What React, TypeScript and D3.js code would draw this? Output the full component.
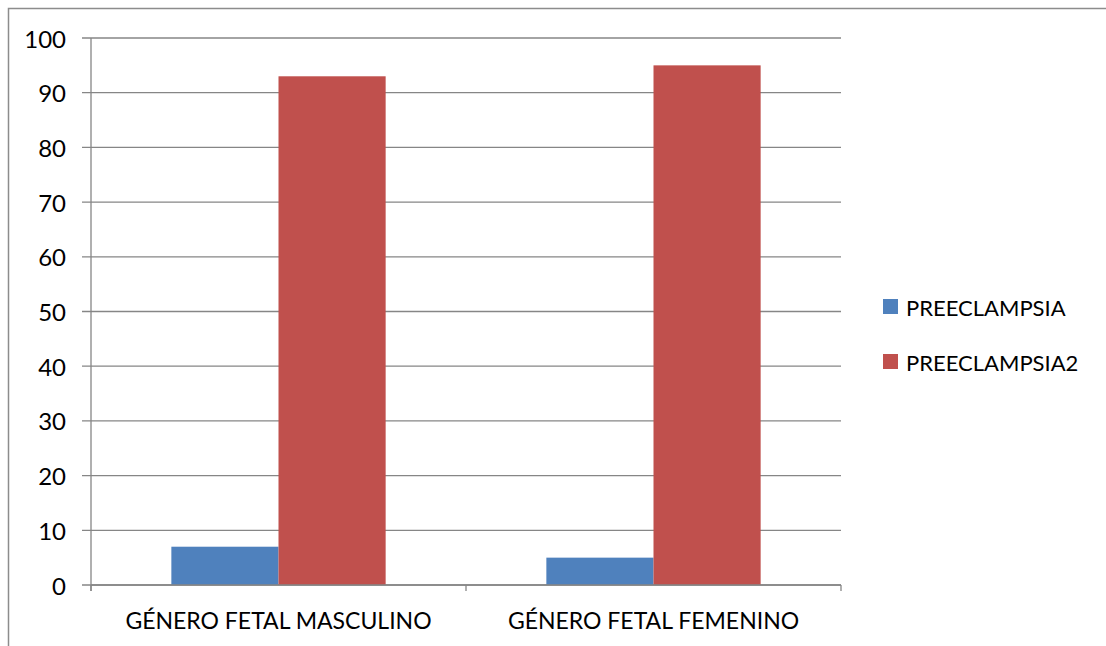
import * as d3 from 'd3'

const categories = ['GÉNERO FETAL MASCULINO', 'GÉNERO FETAL FEMENINO']
const seriesNames = ['PREECLAMPSIA', 'PREECLAMPSIA2']
const preeclampsia = [7, 5]
const preeclampsia2 = [93, 95]
const yTicks = [0, 10, 20, 30, 40, 50, 60, 70, 80, 90, 100]

const COLORS = ['#4F81BD', '#C0504D']
const WIDTH = 1106
const HEIGHT = 646
const PLOT = { left: 91, right: 841, top: 38, bottom: 585 }
const FONT = 'Lato, "Open Sans", sans-serif'

export default function App() {
  const values = [preeclampsia, preeclampsia2]

  const x = d3.scaleBand<string>()
    .domain(categories)
    .range([PLOT.left, PLOT.right])

  // Excel style: gap width 150% of a bar
  const barW = x.bandwidth() / 3.5
  const inner = d3.scaleBand<string>()
    .domain(seriesNames)
    .range([barW * 0.75, barW * 0.75 + barW * 2])

  const y = d3.scaleLinear().domain([0, 100]).range([PLOT.bottom, PLOT.top])

  const catEdges = [PLOT.left, ...categories.map(c => (x(c) ?? 0) + x.bandwidth())]

  return (
    <svg
      width={WIDTH}
      height={HEIGHT}
      style={{ position: 'absolute', left: 0, top: 0, fontFamily: FONT }}
    >
      <rect x={0} y={0} width={WIDTH} height={HEIGHT} fill="#fff" />
      {/* outer chart border */}
      <rect x={8.5} y={8.5} width={WIDTH + 20} height={HEIGHT + 20} fill="none" stroke="#8c8c8c" strokeWidth={1.5} />

      {/* gridlines + y ticks */}
      {yTicks.map(t => (
        <g key={`g-${t}`}>
          <line x1={PLOT.left - 9} x2={PLOT.right} y1={y(t)} y2={y(t)} stroke="#868686" strokeWidth={1.3} />
          <text x={66} y={y(t)} textAnchor="end" dominantBaseline="central" fontSize={24} fill="#000">
            {t}
          </text>
        </g>
      ))}

      {/* bars */}
      {values.map((series, si) =>
        series.map((v, ci) => (
          <rect
            key={`b-${si}-${ci}`}
            x={(x(categories[ci]) ?? 0) + (inner(seriesNames[si]) ?? 0)}
            y={y(v)}
            width={inner.bandwidth()}
            height={y(0) - y(v)}
            fill={COLORS[si]}
          />
        ))
      )}

      {/* y axis */}
      <line x1={PLOT.left} x2={PLOT.left} y1={PLOT.top} y2={PLOT.bottom + 6} stroke="#868686" strokeWidth={1.3} />
      {/* x axis */}
      <line x1={PLOT.left} x2={PLOT.right} y1={PLOT.bottom} y2={PLOT.bottom} stroke="#868686" strokeWidth={1.3} />
      {catEdges.map((e, i) => (
        <line key={`ct-${i}`} x1={e} x2={e} y1={PLOT.bottom} y2={PLOT.bottom + 6} stroke="#868686" strokeWidth={1.3} />
      ))}
      {categories.map(c => (
        <text
          key={`cl-${c}`}
          x={(x(c) ?? 0) + x.bandwidth() / 2}
          y={620}
          textAnchor="middle"
          dominantBaseline="central"
          fontSize={23}
          fill="#000"
        >
          {c}
        </text>
      ))}

      {/* legend */}
      {seriesNames.map((s, i) => (
        <g key={`lg-${s}`} transform={`translate(883, ${299 + i * 55})`}>
          <rect x={0} y={0} width={15} height={15} fill={COLORS[i]} />
          <text x={23} y={8} dominantBaseline="central" fontSize={22} fill="#000">
            {s}
          </text>
        </g>
      ))}
    </svg>
  )
}
